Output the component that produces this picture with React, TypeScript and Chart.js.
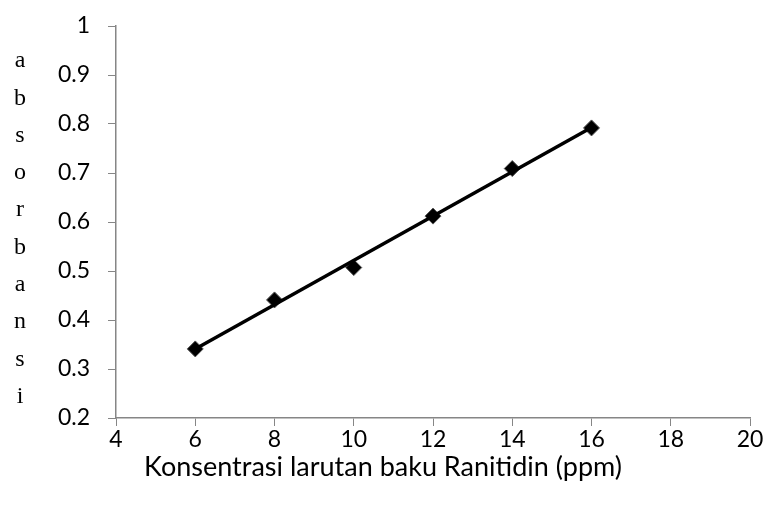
import React, { useEffect, useRef } from "react";
import { Chart, registerables } from "chart.js";

Chart.register(...registerables);

const concentrations = [6, 8, 10, 12, 14, 16];
const absorbances = [0.341, 0.441, 0.507, 0.612, 0.709, 0.792];
const yTitleLetters = ["a", "b", "s", "o", "r", "b", "a", "n", "s", "i"];
const xTitle = "Konsentrasi larutan baku Ranitidin (ppm)";

function linearFit(xs: number[], ys: number[]) {
  const n = xs.length;
  const mx = xs.reduce((a, b) => a + b, 0) / n;
  const my = ys.reduce((a, b) => a + b, 0) / n;
  let num = 0;
  let den = 0;
  for (let i = 0; i < n; i++) {
    num += (xs[i] - mx) * (ys[i] - my);
    den += (xs[i] - mx) * (xs[i] - mx);
  }
  const slope = num / den;
  return { slope, intercept: my - slope * mx };
}

const titlePlugin = {
  id: "customTitles",
  afterDraw(chart: any) {
    const ctx = chart.ctx;
    ctx.save();
    ctx.fillStyle = "#000";
    ctx.textAlign = "center";
    ctx.textBaseline = "middle";
    ctx.font = "24px 'Liberation Serif', serif";
    yTitleLetters.forEach((ch, i) => {
      ctx.fillText(ch, 20, 61 + i * 37.3);
    });
    ctx.font = "27px Lato, sans-serif";
    ctx.fillText(xTitle, 383, 467);
    ctx.restore();
  },
};

export default function App() {
  const ref = useRef<HTMLCanvasElement>(null);
  useEffect(() => {
    document.body.style.margin = "0";
    const fit = linearFit(concentrations, absorbances);
    const x0 = concentrations[0];
    const x1 = concentrations[concentrations.length - 1];
    const axisColor = "#868686";
    const tickFont = { family: "Lato, sans-serif", size: 23 };
    const chart = new Chart(ref.current!, {
      type: "scatter",
      data: {
        datasets: [
          {
            label: "trend",
            type: "line",
            data: [
              { x: x0, y: fit.intercept + fit.slope * x0 },
              { x: x1, y: fit.intercept + fit.slope * x1 },
            ],
            borderColor: "#000",
            borderWidth: 3.5,
            pointRadius: 0,
            fill: false,
            order: 0,
          },
          {
            label: "absorbansi",
            data: concentrations.map((x, i) => ({ x, y: absorbances[i] })),
            pointStyle: "rectRot",
            pointRadius: 8,
            backgroundColor: "#000",
            borderColor: "#555",
            borderWidth: 1,
            order: 1,
          },
        ],
      },
      options: {
        animation: false,
        responsive: false,
        layout: { padding: { left: 0, right: 16, top: 26, bottom: 0 } },
        plugins: { legend: { display: false }, tooltip: { enabled: false } },
        scales: {
          x: {
            type: "linear",
            min: 4,
            max: 20,
            ticks: { stepSize: 2, color: "#000", font: tickFont, padding: 0 },
            grid: { drawOnChartArea: false, drawTicks: true, tickLength: 8, color: axisColor },
            border: { color: axisColor, width: 1.5 },
            afterFit: (s: any) => {
              s.height = 91;
              s.paddingLeft = 0;
              s.paddingRight = 0;
            },
          },
          y: {
            type: "linear",
            min: 0.2,
            max: 1,
            ticks: {
              stepSize: 0.1,
              color: "#000",
              font: tickFont,
              padding: 18,
              callback: (v: any) => String(Math.round(Number(v) * 10) / 10),
            },
            grid: { drawOnChartArea: false, drawTicks: true, tickLength: 8, color: axisColor },
            border: { color: axisColor, width: 1.5 },
            afterFit: (s: any) => {
              s.width = 116;
              s.paddingTop = 0;
              s.paddingBottom = 0;
            },
          },
        },
      },
      plugins: [titlePlugin],
    } as any);
    return () => chart.destroy();
  }, []);
  return <canvas ref={ref} width={766} height={509} style={{ display: "block" }} />;
}
